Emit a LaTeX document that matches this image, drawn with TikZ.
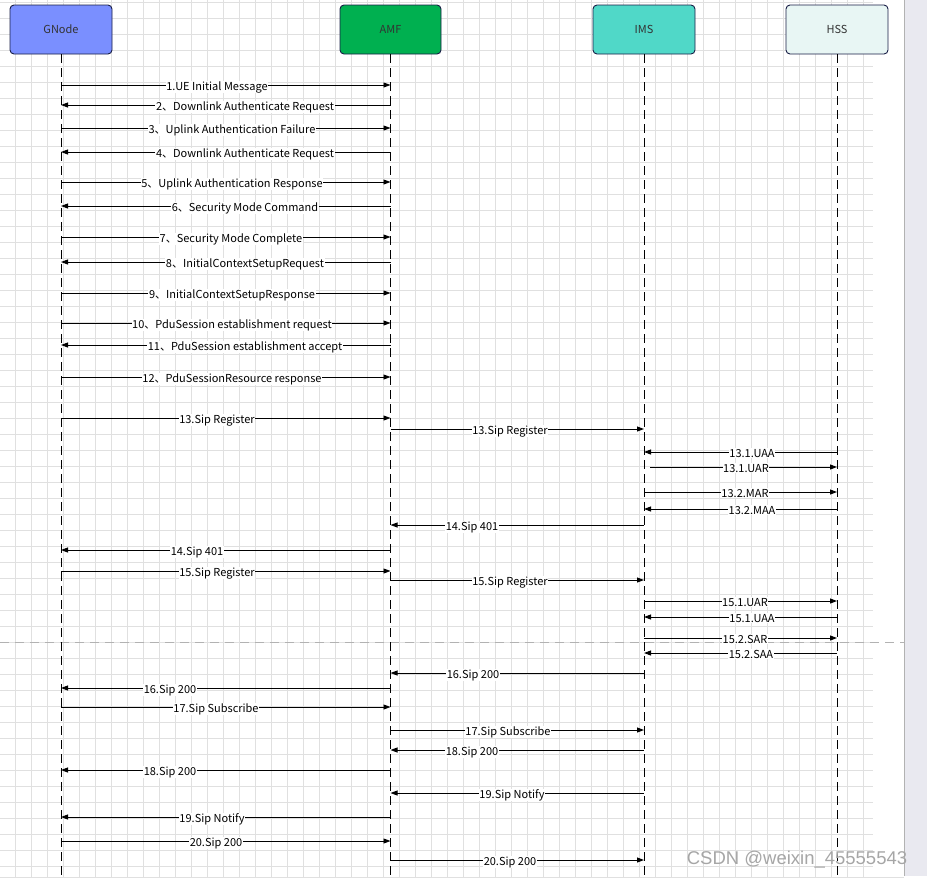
\documentclass[tikz,border=0pt]{standalone}
\usepackage{fontspec}
\setmainfont{Noto Sans CJK SC}
\newfontfamily\wmfont{Liberation Sans}
\usetikzlibrary{arrows.meta}

\definecolor{gnodeblue}{RGB}{122,143,255}
\definecolor{amfgreen}{RGB}{0,176,80}
\definecolor{imsteal}{RGB}{80,216,200}
\definecolor{hssmint}{RGB}{232,246,244}
\definecolor{boxedge}{RGB}{25,30,70}
\definecolor{gridline}{RGB}{224,224,224}
\definecolor{barfill}{RGB}{233,233,240}

\begin{document}
\begin{tikzpicture}[x=1pt,y=-1pt,>={Triangle[length=7pt,width=5pt]},line join=round,
  actor/.style={draw=boxedge,line width=0.9pt,rounded corners=4pt,minimum width=102pt,minimum height=49pt,text=black!80,font=\fontsize{11}{13}\selectfont},
  lifeline/.style={line width=1pt,dash pattern=on 9pt off 5pt},
  msg/.style={->,line width=0.9pt},
  lbl/.style={fill=white,inner sep=0.6pt,anchor=base,text=black,font=\fontsize{11}{13}\selectfont}]
\useasboundingbox (0,0) rectangle (927,879);
\fill[white] (0,0) rectangle (927,879);
% grid
\begin{scope}
\clip (0,0) rectangle (873,877);
\foreach \gx in {15,31,...,879} \draw[gridline,line width=0.9pt] (\gx,0) -- (\gx,877);
\foreach \gy in {2,18,...,879} \draw[gridline,line width=0.9pt] (0,\gy) -- (873,\gy);
\end{scope}
\draw[gridline,line width=0.9pt] (0,877.5) -- (904,877.5);
\fill[barfill] (904,0) rectangle (927,876);
\draw[black!30,line width=1pt] (904,0) -- (904,876);
% page break
\draw[black!30,line width=1pt,dash pattern=on 9pt off 6pt] (0,642) -- (904,642);
% actors
\node[actor,fill=gnodeblue] (gn) at (61,29.5) {GNode};
\node[actor,fill=amfgreen,minimum width=101pt] (amf) at (390.5,29.5) {AMF};
\node[actor,fill=imsteal] (ims) at (644,29.5) {IMS};
\node[actor,fill=hssmint] (hss) at (837,29.5) {HSS};
\coordinate (bottom) at (0,879);
\foreach \a in {gn,amf,ims,hss}
  \draw[lifeline] (\a.south) -- (\a.south |- bottom);
% messages
\foreach \src/\dst/\yy/\lx/\txt in {
  gn/amf/85/217/{1.UE Initial Message},
  amf/gn/105/245/{2、Downlink Authenticate Request},
  gn/amf/128/232/{3、Uplink Authentication Failure},
  amf/gn/152/245/{4、Downlink Authenticate Request},
  gn/amf/182/232/{5、Uplink Authentication Response},
  amf/gn/206/245/{6、Security Mode Command},
  gn/amf/237/231/{7、Security Mode Complete},
  amf/gn/262/245/{8、InitialContextSetupRequest},
  gn/amf/293/232/{9、InitialContextSetupResponse},
  gn/amf/323/232/{10、PduSession establishment request},
  amf/gn/345/245/{11、PduSession establishment accept},
  gn/amf/377/232/{12、PduSessionResource response},
  gn/amf/418/217/{13.Sip Register},
  amf/ims/429/510/{13.Sip Register},
  hss/ims/452/752/{13.1.UAA},
  ims/hss/492/745/{13.2.MAR},
  hss/ims/509/752/{13.2.MAA},
  ims/amf/525/472/{14.Sip 401},
  amf/gn/550/197/{14.Sip 401},
  gn/amf/571/217/{15.Sip Register},
  amf/ims/580/510/{15.Sip Register},
  ims/hss/601/745/{15.1.UAR},
  hss/ims/617/752/{15.1.UAA},
  ims/hss/638/745/{15.2.SAR},
  hss/ims/653/751/{15.2.SAA},
  ims/amf/673/473/{16.Sip 200},
  amf/gn/688/170/{16.Sip 200},
  gn/amf/707/216/{17.Sip Subscribe},
  amf/ims/730/508/{17.Sip Subscribe},
  ims/amf/750/472/{18.Sip 200},
  amf/gn/770/170/{18.Sip 200},
  ims/amf/793/512/{19.Sip Notify},
  amf/gn/817/212/{19.Sip Notify},
  gn/amf/841/216/{20.Sip 200},
  amf/ims/860/510/{20.Sip 200}} {
  \coordinate (row) at (0,\yy);
  \draw[msg] (\src.south |- row) -- (\dst.south |- row);
  \node[lbl] (lbl\yy) at (\lx,\yy+5) {\txt};
}
% this one starts a little off the IMS lifeline
\coordinate (uarrow) at (0,467);
\draw[msg,shorten <=6pt] (ims.south |- uarrow) -- (hss.south |- uarrow);
\node[lbl] (lbl467) at (746,472) {13.1.UAR};
% watermark
\node[text=black!35,font=\wmfont\fontsize{18.5}{20}\selectfont,inner sep=0pt] (wm) at (797,860) {CSDN @weixin\_45555543};
\end{tikzpicture}
\end{document}
